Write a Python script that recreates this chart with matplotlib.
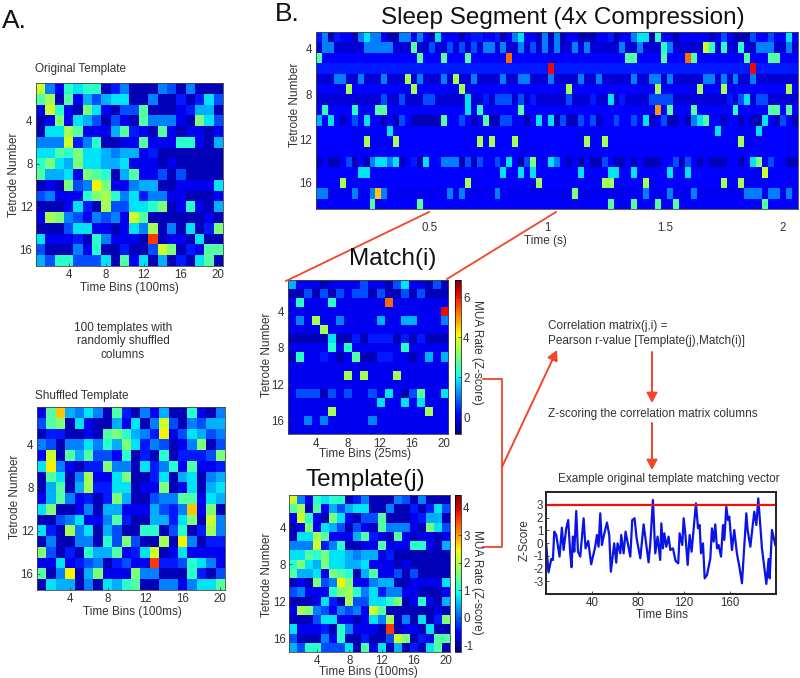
#! /usr/bin/env python3
# coding: utf-8

import numpy as np
import matplotlib
matplotlib.use('Agg')
import matplotlib.pyplot as plt

plt.rcParams['font.family'] = ['Liberation Sans', 'DejaVu Sans']
plt.rcParams['axes.unicode_minus'] = False

W, H = 800, 678
RED = '#f2452a'
TEXT = '#333333'
TICK_SIZE = 8.3

# colour levels, one base-36 digit per cell (0..20 spans the jet map)
TEMPLATE_ROWS = [
    'c528788135' '1115415111', '9b19264677' '1151131374', '2c821a7214' '4911123661',
    '12a2764142' '1955521a74', '177b922269' '3219212212', '555c358112' '2922288216',
    '7798a77656' '6231111111', '8a76a77667' '2221211111', '96672a9816' '9224141111',
    '121a45da22' '5661122227', '452228ab85' '7355221112', '1112731b44' '778a128216',
    '2ba5425452' 'c911111121', '1114772212' '75b151713a', '7222318522' '21h1221711',
    '4111528113' '114ca13299', '6488444719' '2716131791',
]
SHUFFLED_ROWS = [
    '29e6575193' '1526118215', '49a1721162' '715c415466', '13311219a8' '653d247645',
    '541557586a' '7354125a14', '2c19694428' '131813334a', '7d52133a55' '1735829223',
    '19715b227a' '1137167156', '16916b3377' '122a127167', '26952313a6' '1145599276',
    '7a11251662' '226435e2a1', '1145722593' '116637a1c5', '731b571641' '18814813b5',
    '151155184a' '411b1d5133', 'a413186692' '37c1272222', '2272345134' '22h3348752',
    '915d16a222' 'a551118314', '1766151768' '9115525779',
]
MATCH_ROWS = [
    '6222122224' '2214722141', '1141414244' '1411414111', '2822282222' '22g2222222',
    '2222222222' '222222222i', '252b225222' '2622662225', '2222b22222' '2222222222',
    '1111171131' '3331313111', '2222282822' '2222822222', '1822321291' '1332212626',
    '2222222222' '2222222222', '2222222b2b' '222b222222', '2222222222' '2222222222',
    '2444142422' '4272149227', '2222222222' '2722727222', '22222b2222' '2222222b22',
    '2252522222' '5222222222', '2222222222' '2222222222',
]

# sleep segment: 81 bins, background level per row plus the bins that stand out
SLEEP_BASE = [2.5, 1.5, 2.5, 3, 1.5, 2.5, 1.5, 2.5, 2.5, 2.5, 2.5, 2.5, 2.5, 2.5, 2.5, 2, 2.5]
SLEEP_EVENTS = [
    {1: 3, 2: 5, 3: 1, 4: 3, 7: 1, 8: 5, 9: 7, 10: 5, 11: 5, 13: 1, 14: 1, 15: 5, 16: 5, 18: 5, 20: 1,
     21: 7, 25: 1, 27: 3, 28: 3, 31: 3, 32: 1, 34: 5, 35: 7, 38: 1, 39: 5, 40: 1, 41: 5, 42: 1, 45: 1,
     46: 1, 47: 1, 50: 3, 51: 1, 54: 5, 55: 7, 56: 7, 57: 1, 58: 8, 61: 1, 67: 1, 69: 4, 71: 1, 72: 1,
     73: 1, 74: 4, 77: 4, 80: 7},
    {2: 5, 3: 5, 9: 5, 10: 5, 11: 5, 12: 5, 13: 5, 17: 9, 20: 4, 23: 4, 25: 4, 27: 4, 29: 5, 30: 5,
     32: 5, 35: 5, 37: 4, 39: 5, 41: 5, 44: 5, 46: 5, 52: 5, 55: 5, 59: 8, 60: 5, 66: 12, 67: 8, 69: 8,
     72: 8, 75: 5, 76: 5, 77: 5, 80: 5},
    {1: 9, 18: 9, 22: 9, 26: 9, 33: 16, 53: 9, 54: 9, 59: 9, 63: 16, 64: 9, 73: 9, 77: 9, 78: 9},
    {40: 18, 74: 18},
    {4: 5, 5: 5, 8: 5, 12: 5, 16: 11, 18: 5, 22: 5, 24: 11, 27: 5, 32: 5, 35: 5, 36: 5, 40: 5, 45: 5,
     48: 5, 54: 5, 57: 5, 58: 5, 60: 5, 66: 5, 67: 5, 69: 5, 71: 5, 74: 5},
    {6: 11, 17: 11, 25: 11, 43: 11, 58: 11, 65: 11, 69: 11, 80: 11},
    {12: 4, 15: 4, 19: 4, 20: 4, 26: 7, 29: 3, 31: 4, 32: 4, 33: 4, 35: 4, 37: 3, 43: 4, 47: 3, 50: 7,
     52: 3, 57: 4, 58: 4, 59: 4, 60: 4, 70: 3, 72: 4, 73: 7, 75: 4, 76: 4},
    {2: 8, 7: 8, 11: 9, 12: 9, 26: 7, 28: 8, 35: 9, 58: 15, 60: 9, 64: 9, 71: 8, 77: 9, 78: 9, 80: 9},
    {1: 6, 3: 7, 5: 1, 7: 4, 9: 7, 12: 1, 14: 1, 15: 4, 17: 1, 18: 1, 19: 1, 20: 1, 21: 1, 22: 9, 25: 4,
     27: 1, 29: 9, 30: 1, 31: 1, 32: 4, 33: 4, 36: 1, 38: 7, 40: 7, 41: 1, 42: 4, 43: 1, 44: 1, 45: 4,
     47: 4, 48: 1, 51: 4, 54: 4, 56: 7, 57: 1, 59: 4, 60: 1, 61: 1, 63: 1, 64: 5, 65: 7, 66: 9, 69: 1,
     72: 1, 74: 1, 75: 1, 76: 7, 78: 1, 79: 4, 81: 1},
    {13: 7, 68: 7, 75: 7},
    {9: 11, 14: 11, 28: 11, 30: 11, 34: 11, 46: 11, 49: 11, 72: 11},
    {},
    {1: 1, 3: 1, 4: 1, 6: 4, 7: 1, 9: 1, 10: 5, 11: 7, 12: 7, 13: 5, 14: 7, 15: 1, 17: 3, 18: 1, 19: 7,
     22: 5, 23: 5, 24: 5, 25: 1, 26: 4, 27: 1, 28: 4, 31: 4, 33: 7, 35: 1, 36: 4, 37: 10, 40: 7, 41: 5,
     43: 1, 45: 1, 47: 1, 48: 1, 49: 4, 51: 1, 52: 1, 54: 1, 56: 1, 57: 1, 58: 1, 61: 4, 62: 1, 63: 4,
     65: 1, 67: 1, 68: 1, 69: 1, 72: 1, 74: 7, 75: 10, 77: 4, 80: 1, 81: 1},
    {8: 7, 9: 7, 32: 7, 35: 7, 37: 7, 45: 7, 50: 7, 51: 7, 54: 7, 60: 7, 63: 7, 76: 12},
    {5: 11, 26: 11, 38: 11, 49: 11, 50: 11, 56: 11, 69: 11, 72: 11},
    {1: 5, 2: 5, 7: 5, 10: 5, 11: 14, 12: 5, 23: 5, 25: 5, 31: 5, 44: 10, 56: 5, 60: 5, 64: 5, 73: 5,
     74: 5, 75: 5, 77: 5, 78: 5, 80: 5},
    {10: 9, 18: 9, 50: 9, 54: 9, 58: 9, 61: 9, 76: 9},
]

# matching vector, read at the turning points of the line
VECTOR_BINS = [0.2, 2.2, 4.6, 6, 7.2, 8.9, 11.8, 13.8, 15.3, 17.6, 19.3, 21.1, 22.2, 23.4, 24.6, 26.3,
               27.8, 29.8, 32.7, 34.4, 36.7, 39.3, 42.8, 44.3, 45.7, 47.2, 48.6, 50.1, 53, 55, 56.4,
               59.3, 61.1, 62.2, 64.6, 65.4, 67.5, 69.2, 73.3, 75, 77, 78.8, 82, 84.9, 89.2, 90.7,
               93, 95, 97, 99.3, 100.3, 101.7, 102.9, 104.6, 106.6, 108.1, 110.4, 112.7, 115, 116.2,
               118.5, 119.7, 121.1, 123.2, 124.9, 126.6, 130.4, 132.2, 133.6, 134.8, 136.5, 138, 140,
               142.9, 144.3, 145.8, 147.2, 148.7, 150.1, 152.2, 153.9, 155.1, 156.8, 158.2, 159.4,
               161.7, 163.7, 166, 168.4, 170.4, 174.2, 175.3, 177.7, 181.1, 182.9, 184.6, 187.8,
               191.6, 193.6, 194.5, 196.5, 199.4]
VECTOR_Z = [-0.16, -2.3, -1.25, -1.33, 0.89, 0.63, -1.07, 1.2, -0.55, 1.15, 1.8, -0.81, -1.9, 0.5, -0.68,
            2.51, -0.68, -1.07, 1.94, -0.42, 0.16, -1.67, -0.29, 0.63, -0.29, 2.33, -0.16, 0.5, 1.6,
            0.63, -2.25, -0.03, -1.54, -0.03, -0.81, 0.63, -0.81, 0.89, -1.07, 1.8, 1.94, 0.37, -1.2,
            1.46, -1.52, -0.03, 3.37, -0.81, 0.5, -1.33, 1.54, -0.42, 0.76, -0.29, 0.5, -0.55, -0.42,
            -1.41, -1.59, 0.76, -0.16, 1.94, 0.76, -1.72, 0.63, -0.68, 3.11, 1.15, 1.41, -0.81, -0.03,
            -2.77, -2.51, -1.2, 1.15, 0.11, 1.46, -0.42, -0.16, -1.07, 1.41, 0.24, 2.85, 1.8, 2.07,
            -0.55, 1.02, -0.81, -1.99, -3.16, 2.33, 1.02, -0.29, 2.46, 1.41, 3.5, -0.42, -3.21, -1.25,
            -2.77, 1.02, -0.16]
THRESHOLD = 3

BIN_TICKS = [4, 8, 12, 16, 20]
ROW_TICKS = [4, 8, 12, 16]
SLEEP_TICKS = [0.5, 1, 1.5, 2]
VECTOR_XTICKS = [40, 80, 120, 160]
VECTOR_YTICKS = [-3, -2, -1, 0, 1, 2, 3]
MATCH_RANGE = (-0.85, 6.85)
MATCH_CTICKS = [0, 2, 4, 6]
TEMPLATE_RANGE = (-1.25, 4.47)
TEMPLATE_CTICKS = [-1, 0, 1, 2, 3, 4]


def levels(rows):
    return np.array([[int(c, 36) for c in row] for row in rows], dtype=float)


def to_z(grid, value_range):
    lo, hi = value_range
    return lo + grid / 20 * (hi - lo)


def ax_px(left, top, right, bottom):
    return fig.add_axes([left / W, 1 - bottom / H, (right - left) / W, (bottom - top) / H])


def style_ax(ax, pad=3):
    ax.tick_params(length=2, width=0.5, direction='in', labelsize=TICK_SIZE, colors=TEXT, pad=pad)
    for s in ax.spines.values():
        s.set_linewidth(0.6)
        s.set_color('#444444')


def heatmap(box, grid, vmin=0, vmax=20, pad=3):
    ax = ax_px(*box)
    im = ax.imshow(grid, cmap='jet', vmin=vmin, vmax=vmax, aspect='auto', interpolation='nearest',
                   extent=(0.5, 20.5, 17.5, 0.5))
    ax.set_xticks(BIN_TICKS)
    ax.set_yticks(ROW_TICKS)
    style_ax(ax, pad)
    return im


def colorbar(im, box, ticks):
    cax = ax_px(*box)
    cb = fig.colorbar(im, cax=cax)
    cb.set_ticks(ticks)
    cb.ax.tick_params(length=2, width=0.5, direction='in', labelsize=TICK_SIZE, colors=TEXT, pad=1.5)
    cb.outline.set_linewidth(0.5)
    return cb


fig = plt.figure(figsize=(W / 100, H / 100), dpi=100)

heatmap((36, 83, 223, 266), levels(TEMPLATE_ROWS), pad=2.5)
heatmap((37, 407, 225, 590), levels(SHUFFLED_ROWS), pad=2.5)

# sleep segment
sleep = np.array(SLEEP_BASE, dtype=float)[:, None].repeat(81, axis=1)
for r, events in enumerate(SLEEP_EVENTS):
    for b, v in events.items():
        sleep[r, b - 1] = v
ax = ax_px(316, 32, 798, 209)
ax.imshow(sleep, cmap='jet', vmin=0, vmax=20, aspect='auto', interpolation='nearest',
          extent=(0.016, 2.066, 17.5, 0.5))
ax.set_xticks(SLEEP_TICKS)
ax.set_xticklabels(['0.5', '1', '1.5', '2'])
# the labels sit a little off the rows in the reference
ax.set_yticks([2.07, 6.55, 10.84, 15.0])
ax.set_yticklabels([str(t) for t in ROW_TICKS])
style_ax(ax)
ax.tick_params(axis='y', length=0, pad=3)
ax.tick_params(axis='x', length=0, pad=9)

im = heatmap((288, 280, 448, 434), to_z(levels(MATCH_ROWS), MATCH_RANGE), *MATCH_RANGE)
colorbar(im, (455, 280, 461, 434), MATCH_CTICKS)
im = heatmap((289, 495, 450, 652), to_z(levels(TEMPLATE_ROWS), TEMPLATE_RANGE), *TEMPLATE_RANGE, pad=2)
colorbar(im, (455, 495, 461, 652), TEMPLATE_CTICKS)

# matching vector
ax = ax_px(546, 492, 776, 594)
ax.plot(VECTOR_BINS, VECTOR_Z, color='#0a14e6', lw=1.6)
ax.axhline(THRESHOLD, color='#f01010', lw=1.6)
ax.set_xlim(0, 200)
ax.set_ylim(-4, 4)
ax.set_xticks(VECTOR_XTICKS)
ax.set_yticks(VECTOR_YTICKS)
ax.tick_params(length=2, width=0.6, direction='in', labelsize=TICK_SIZE, colors=TEXT, pad=2)
for s in ax.spines.values():
    s.set_linewidth(1.4)
    s.set_color('#222222')

# overlay in pixel coordinates for labels, connectors and arrows
ov = fig.add_axes([0, 0, 1, 1], zorder=10)
ov.set_xlim(0, W)
ov.set_ylim(H, 0)
ov.axis('off')


def label(x, y, s, size=8.5, ha='center', rotation=0):
    ov.text(x, y, s, fontsize=size, color=TEXT, ha=ha, va='center', rotation=rotation,
            rotation_mode='anchor' if rotation == 0 else 'default')


def arrow(x0, y0, x1, y1):
    ov.annotate('', xy=(x1, y1), xytext=(x0, y0),
                arrowprops=dict(arrowstyle='-|>,head_width=0.32,head_length=0.6', color=RED, lw=1.4,
                                shrinkA=0, shrinkB=0))


ov.text(2, 21, 'A.', fontsize=19, color='#111111', va='center')
ov.text(275, 14, 'B.', fontsize=19, color='#111111', va='center')
ov.text(563, 18, 'Sleep Segment (4x Compression)', fontsize=17.5, color='#111111', ha='center', va='center')
ov.text(393, 259, 'Match(i)', fontsize=17.5, color='#111111', ha='center', va='center')
ov.text(365, 480, 'Template(j)', fontsize=17.5, color='#111111', ha='center', va='center')

label(35, 69, 'Original Template', ha='left')
label(35, 396, 'Shuffled Template', ha='left')
label(123, 328, '100 templates with')
label(123, 341, 'randomly shuffled')
label(123, 355, 'columns')

label(129, 288, 'Time Bins (100ms)')
label(132, 612, 'Time Bins (100ms)')
label(365, 454, 'Time Bins (25ms)')
label(368, 672, 'Time Bins (100ms)')
label(545, 241, 'Time (s)')
label(662, 615, 'Time Bins')

label(14, 175, 'Tetrode Number', rotation=90)
label(15, 497, 'Tetrode Number', rotation=90)
label(295, 105, 'Tetrode Number', rotation=90)
label(267, 355, 'Tetrode Number', rotation=90)
label(267, 575, 'Tetrode Number', rotation=90)
label(525, 540, 'Z-Score', rotation=90)
label(477, 352, 'MUA Rate (Z-score)', rotation=-90)
label(477, 582, 'MUA Rate (Z-score)', rotation=-90)

label(548, 326, 'Correlation matrix(j,i) =', ha='left')
label(548, 341, 'Pearson r-value [Template(j),Match(i)]', ha='left')
label(548, 414, 'Z-scoring the correlation matrix columns', ha='left')
label(558, 479, 'Example original template matching vector', ha='left')

ov.plot([429, 286], [212, 281], color=RED, lw=1.3)
ov.plot([556, 447], [212, 279], color=RED, lw=1.3)
ov.plot([483, 502, 502, 483], [379, 379, 547, 547], color=RED, lw=1.3)
arrow(502, 467, 557, 350)
arrow(652, 352, 652, 403)
arrow(652, 423, 652, 470)

fig.savefig('out.png', dpi=100)
